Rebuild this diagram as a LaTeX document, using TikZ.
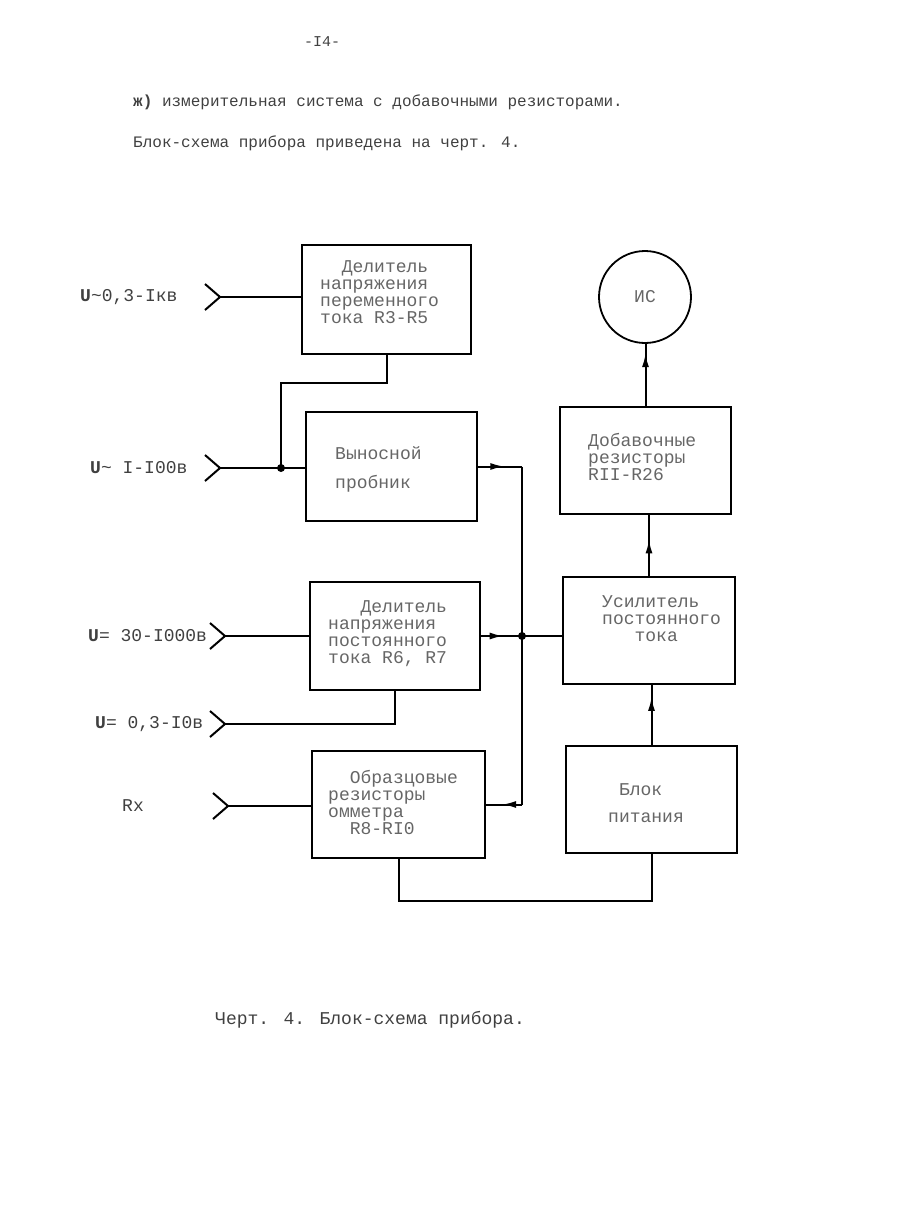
\documentclass[tikz,border=0pt]{standalone}
\usepackage{fontspec}
\setmainfont{Liberation Mono}
\usetikzlibrary{arrows.meta, decorations.markings}
\newcommand{\indentby}[1]{\hspace*{#1\dimexpr 0.6em\relax}}

\begin{document}
\begin{tikzpicture}[x=1pt, y=-1pt,
  block/.style={draw, line width=1.8pt, minimum width=171pt, minimum height=108pt, inner sep=0pt},
  blocktext/.style={anchor=north west, align=left, inner sep=0pt, text=black!60, font=\fontsize{18}{17}\selectfont},
  inlabel/.style={anchor=west, inner sep=0pt, text=black!75, font=\fontsize{18}{17}\selectfont},
  plain/.style={anchor=west, inner sep=0pt, text=black!75, font=\fontsize{16}{16}\selectfont},
  wire/.style={line width=2pt},
  midarrow/.style={postaction={decorate}, decoration={markings, mark=at position #1 with {\arrow{Latex[length=14pt, width=7pt]}}}},
  jack/.pic={\draw[wire] (-15,-13) -- (0,0) -- (-15,13);}]
  \useasboundingbox (0,0) rectangle (900,1224);

  % page text
  \node[inner sep=0pt, text=black!75, font=\fontsize{15}{15}\selectfont] (page) at (322,42) {-I4-};
  \node[plain] (intro) at (133,102) {\textbf{ж)} измерительная система с добавочными резисторами.};
  \node[plain] (ref) at (133,143) {Блок-схема прибора приведена на черт. 4.};

  % blocks
  \node[block, minimum width=169pt, minimum height=109pt] (acdiv) at (386.5,299.5) {};
  \node[block, minimum height=109pt] (probe) at (391.5,466.5) {};
  \node[block, minimum width=170pt] (dcdiv) at (395,636) {};
  \node[block, minimum width=173pt, minimum height=107pt] (refres) at (398.5,804.5) {};
  \node[block, minimum height=107pt] (addres) at (645.5,460.5) {};
  \node[block, minimum width=172pt, minimum height=107pt] (amp) at (649,630.5) {};
  \node[block, minimum height=107pt] (power) at (651.5,799.5) {};
  \node[draw, circle, line width=1.8pt, minimum size=92pt, inner sep=0pt, text=black!60, font=\fontsize{18}{17}\selectfont] (meter) at (645,297) {ИС};

  \node[blocktext] (acdivtext) at (320,260) {\indentby{2}Делитель\\напряжения\\переменного\\тока R3-R5};
  \node[blocktext] (probetext) at (335,446) {Выносной\\[12pt]пробник};
  \node[blocktext] (dcdivtext) at (328,600) {\indentby{3}Делитель\\напряжения\\постоянного\\тока R6, R7};
  \node[blocktext] (refrestext) at (328,770) {\indentby{2}Образцовые\\резисторы\\омметра\\\indentby{2}R8-RI0};
  \node[blocktext] (addrestext) at (588,433) {Добавочные\\резисторы\\RII-R26};
  \node[blocktext] (amptext) at (602,595) {Усилитель\\постоянного\\\indentby{3}тока};
  \node[blocktext] (powertext) at (608,783) {\indentby{1}Блок\\[10pt]питания};

  % inputs
  \coordinate (in1) at (220,297);
  \coordinate (in2) at (220,468);
  \coordinate (in3) at (225,636);
  \coordinate (in4) at (225,724);
  \coordinate (in5) at (228,806);
  \foreach \n in {1,...,5} \pic at (in\n) {jack};

  \node[inlabel] (lab1) at (80,297) {\textbf{U}\textasciitilde0,3-Iкв};
  \node[inlabel] (lab2) at (90,468) {\textbf{U}\textasciitilde{} I-I00в};
  \node[inlabel] (lab3) at (88,636) {\textbf{U}= 30-I000в};
  \node[inlabel] (lab4) at (95,724) {\textbf{U}= 0,3-I0в};
  \node[inlabel] (lab5) at (122,806) {Rx};

  % wiring
  \coordinate (j1) at (281,468);
  \coordinate (j2) at (522,636);
  \draw[wire] (in1) -- (in1 -| acdiv.west);
  \draw[wire] (acdiv.south) -- ++(0,28) -| (j1);
  \draw[wire] (in2) -- (in2 -| probe.west);
  \draw[wire, midarrow=0.6] (probe.east) -- (probe.east -| j2);
  \draw[wire] (probe.east -| j2) -- (j2);
  \draw[wire, midarrow=0.55] (dcdiv.east) -- (j2);
  \draw[wire] (in3) -- (in3 -| dcdiv.west);
  \draw[wire] (j2) -- (j2 -| amp.west);
  \draw[wire] (dcdiv.south) |- (in4);
  \draw[wire] (j2) -- (j2 |- refres.east);
  \draw[wire, midarrow=0.55] (j2 |- refres.east) -- (refres.east);
  \draw[wire] (in5) -- (in5 -| refres.west);
  \draw[wire] (refres.south) -- ++(0,42) -| (power.south);
  \draw[wire, midarrow=0.8] (power.north) -- (power.north |- amp.south);
  \draw[wire, midarrow=0.6] (amp.north) -- (amp.north |- addres.south);
  \draw[wire, midarrow=0.85] (addres.north) -- (addres.north |- meter.south);
  \fill (j1) circle (4);
  \fill (j2) circle (4);

  % caption
  \node[inlabel] (caption) at (215,1020) {Черт. 4. Блок-схема прибора.};
\end{tikzpicture}
\end{document}
